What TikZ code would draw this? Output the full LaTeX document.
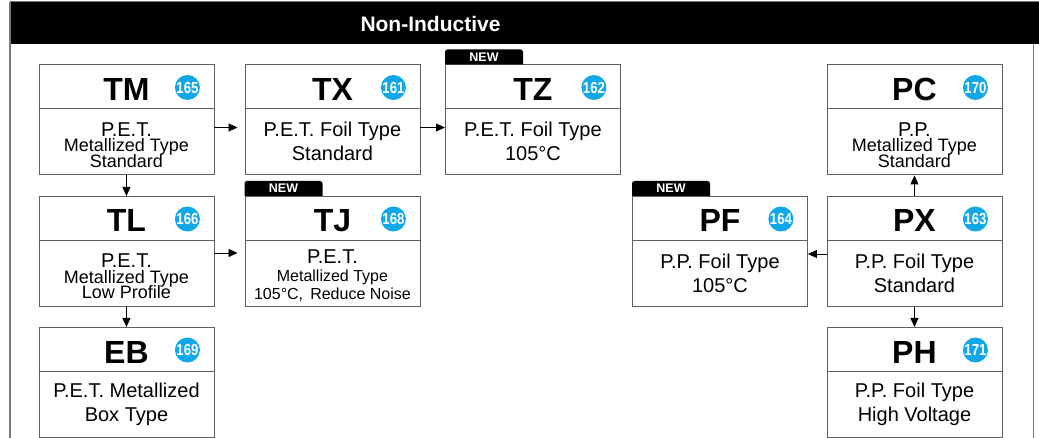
\documentclass[tikz,border=0pt]{standalone}
\usepackage{fontspec}
\setmainfont{Liberation Sans}
\usetikzlibrary{arrows.meta}
\definecolor{badgeblue}{RGB}{18,168,232}
\definecolor{boxgray}{RGB}{95,95,95}
\definecolor{framegray}{RGB}{120,120,120}
\newcommand\fs[2]{\fontsize{#1}{#2}\selectfont}
\newcommand\prodbox[7][]{%
  \node[cbox] (#2) at (#3,#4) {};
  \draw[divline] ([yshift=-44pt]#2.north west) -- ([yshift=-44pt]#2.north east);
  \node[ttl] (#2-title) at ([yshift=-36pt]#2.north) {#5};
  \node[badge] (#2-page) at ([xshift=-27pt,yshift=-23pt]#2.north east) {\scalebox{0.82}[1]{#6}};
  \node[body,#1] (#2-text) at ([yshift=-77pt]#2.north) {#7};
}
\newcommand\newtab[1]{%
  \fill[black] (#1.north west) [rounded corners=2.5pt] -- ++(0,-15) -- ++(78,0) [sharp corners] -- ++(0,15) -- cycle;
  \node[newlbl] (#1-new) at ([xshift=39pt,yshift=7.5pt]#1.north west) {NEW};
}
\begin{document}
\lineskiplimit=-50pt\relax
\lineskip=0pt\relax
\begin{tikzpicture}[x=1pt,y=-1pt,
  cbox/.style={draw=boxgray,line width=0.9pt,minimum width=175pt,minimum height=110pt,inner sep=0pt,anchor=north west},
  divline/.style={draw=boxgray,line width=0.9pt},
  ttl/.style={font=\bfseries\fs{32}{32},inner sep=0pt,anchor=base},
  badge/.style={circle,fill=badgeblue,minimum size=25pt,inner sep=0pt,text=white,font=\bfseries\fs{16}{16}},
  body/.style={align=center,inner sep=0pt,font=\fs{20}{24}},
  tight/.style={font=\fs{18}{15.5},yshift=-3.5pt},
  tightj/.style={font=\fs{16}{18},yshift=-3pt},
  newlbl/.style={text=white,font=\bfseries\fs{12.5}{12.5},inner sep=0pt},
  arr/.style={-{Triangle[length=9pt,width=8pt]},line width=0.9pt,draw=black},
]
\useasboundingbox (0,0) rectangle (1039,438);
% frame and header
\fill[black] (10,2.5) rectangle (1039,44.5);
\draw[framegray,line width=1pt] (10,2) -- (1039,2);
\draw[framegray,line width=1.2pt] (10,2) -- (10,438);
\draw[framegray,line width=1.2pt] (1033.5,44.5) -- (1033.5,438);
\node[text=white,font=\bfseries\fs{21}{21},inner sep=0pt,anchor=base] (hdr) at (430.5,31.7) {Non-Inductive};

% boxes
\prodbox[tight]{TM}{38.5}{64.5}{TM}{165}{{\fs{20}{15}P.E.T.}\\Metallized Type\\Standard}
\prodbox{TX}{244.5}{64.5}{TX}{161}{P.E.T. Foil Type\\Standard}
\prodbox{TZ}{445}{64.5}{TZ}{162}{P.E.T. Foil Type\\105°C}
\prodbox[tight]{PC}{826.5}{64.5}{PC}{170}{{\fs{20}{15}P.P.}\\Metallized Type\\Standard}
\prodbox[tight]{TL}{38.5}{196}{TL}{166}{{\fs{20}{15}P.E.T.}\\Metallized Type\\Low Profile}
\prodbox[tightj]{TJ}{244.5}{196}{TJ}{168}{{\fs{20}{18}P.E.T.}\\Metallized Type\\105°C,\, Reduce Noise}
\prodbox{PF}{632}{196}{PF}{164}{P.P. Foil Type\\105°C}
\prodbox{PX}{826.5}{196}{PX}{163}{P.P. Foil Type\\Standard}
\prodbox{EB}{38.5}{327}{EB}{169}{P.E.T. Metallized\\Box Type}
\prodbox{PH}{826.5}{327}{PH}{171}{P.P. Foil Type\\High Voltage}

\newtab{TZ}
\newtab{TJ}
\newtab{PF}

% connectors
\draw[arr,shorten >=7pt] ([yshift=-63pt]TM.north east) -- ([yshift=-63pt]TX.north west);
\draw[arr] ([yshift=-63pt]TX.north east) -- ([yshift=-63pt]TZ.north west);
\draw[arr] (TM.south) -- (TL.north);
\draw[arr,shorten >=7pt] ([yshift=-57pt]TL.north east) -- ([yshift=-57pt]TJ.north west);
\draw[arr] (TL.south) -- (EB.north);
\draw[arr] (PX.north) -- (PC.south);
\draw[arr] ([yshift=-58pt]PX.north west) -- ([yshift=-58pt]PF.north east);
\draw[arr] (PX.south) -- (PH.north);
\end{tikzpicture}
\end{document}
